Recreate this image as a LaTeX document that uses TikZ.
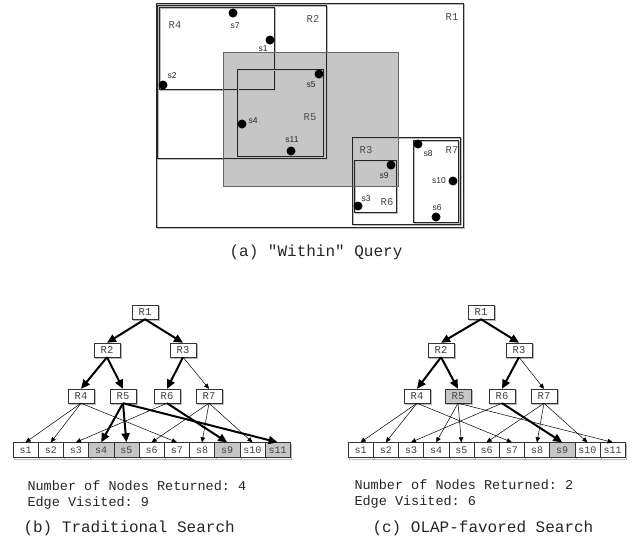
\documentclass[tikz,border=0pt]{standalone}
\usepackage{fontspec}
\setmainfont{Liberation Serif}
\setsansfont{Liberation Sans}
\setmonofont{Liberation Mono}
\usetikzlibrary{arrows.meta, positioning}

\begin{document}
\begin{tikzpicture}[
  x=1pt, y=-1pt,
  shade/.style={preaction={draw=gray!55, line width=0.7pt,
                transform canvas={xshift=1.4pt, yshift=-1.4pt}}},
  mbr/.style={draw=black!85, line width=0.7pt, shade},
  query/.style={fill=gray!45, draw=black!60, line width=1pt},
  spot/.style={circle, fill=black, inner sep=0pt, minimum size=9pt},
  rlabel/.style={font=\ttfamily\fontsize{10.5}{10.5}\selectfont, text=black!70},
  slabel/.style={font=\sffamily\fontsize{8.5}{8.5}\selectfont, text=black!85},
  tnode/.style={draw=black!80, fill=white, shade, minimum width=26pt,
                minimum height=14pt, inner sep=0pt,
                font=\ttfamily\fontsize{10.5}{10.5}\selectfont, text=black!75},
  leaf/.style={tnode, minimum width=25.2pt, minimum height=15pt,
               font=\ttfamily\fontsize{10}{10}\selectfont},
  hit/.style={fill=gray!45},
  thin/.style={-{Triangle[length=5pt,width=4.5pt]}, line width=0.5pt},
  thick/.style={-{Triangle[length=9pt,width=8pt]}, line width=2pt},
  info/.style={font=\ttfamily\fontsize{13.5}{13.5}\selectfont, anchor=west, text=black!85},
  caption/.style={font=\ttfamily\fontsize{16}{16}\selectfont, anchor=west, text=black!85}
]
\useasboundingbox (0,0) rectangle (634,542);

% (a) the query window and the MBRs
\fill[query] (223,52) rectangle (398,186);
\draw[mbr] (156,3) rectangle (463,227);   % R1
\draw[mbr] (157,5) rectangle (326,158);   % R2
\draw[mbr] (159,7) rectangle (274,89);    % R4
\draw[mbr] (237,69) rectangle (323,156);  % R5
\draw[mbr] (352,137) rectangle (460,224); % R3
\draw[mbr] (354,160) rectangle (396,212); % R6
\draw[mbr] (413,140) rectangle (458,222); % R7
\draw[query, fill=none] (223,52) rectangle (398,186);

\node[rlabel] (lR1) at (452,17) {R1};
\node[rlabel] (lR2) at (313,19) {R2};
\node[rlabel] (lR3) at (366,150) {R3};
\node[rlabel] (lR4) at (175,25) {R4};
\node[rlabel] (lR5) at (310,117) {R5};
\node[rlabel] (lR6) at (387,202) {R6};
\node[rlabel] (lR7) at (452,150) {R7};

\foreach \s/\x/\y in {1/270/40, 2/163/85, 3/358/206, 4/242/124, 5/319/74,
                      6/436/217, 7/233/13, 8/418/144, 9/391/165, 10/453/181, 11/291/151}
  \node[spot] (p\s) at (\x,\y) {};

\node[slabel] (ls1) at (263,49) {s1};
\node[slabel] (ls2) at (172,76) {s2};
\node[slabel] (ls3) at (366,199) {s3};
\node[slabel] (ls4) at (253,121) {s4};
\node[slabel] (ls5) at (311,85) {s5};
\node[slabel] (ls6) at (437,208) {s6};
\node[slabel] (ls7) at (235,26) {s7};
\node[slabel] (ls8) at (428,154) {s8};
\node[slabel] (ls9) at (384,176) {s9};
\node[slabel] (ls10) at (439,181) {s10};
\node[slabel] (ls11) at (292,140) {s11};

\node[caption, anchor=center] (capa) at (316,252) {(a) "Within" Query};

% (b) traditional search
\node[tnode] (bR1) at (145,312) {R1};
\node[tnode] (bR2) at (107,350) {R2};
\node[tnode] (bR3) at (183,350) {R3};
\node[tnode] (bR4) at (81,396) {R4};
\node[tnode] (bR5) at (123,396) {R5};
\node[tnode] (bR6) at (167,396) {R6};
\node[tnode] (bR7) at (209,396) {R7};
\foreach \i/\h in {1/,2/,3/,4/hit,5/hit,6/,7/,8/,9/hit,10/,11/hit}
  \node[leaf, \h] (bs\i) at ({13+25.2*(\i-0.5)},450) {s\i};

\foreach \a/\b in {R1/R2, R1/R3, R2/R4, R2/R5, R3/R6, R5/s4, R5/s5, R5/s11, R6/s9}
  \draw[thick] (b\a.south) -- (b\b.north);
\foreach \a/\b in {R3/R7, R4/s1, R4/s2, R4/s7, R6/s3, R7/s6, R7/s8, R7/s10}
  \draw[thin] (b\a.south) -- (b\b.north);

\node[info] (binfo1) at (24,486) {Number of Nodes Returned: 4};
\node[info] (binfo2) at (24,503) {Edge Visited: 9};
\node[caption] (capb) at (20,528) {(b) Traditional Search};

% (c) OLAP-favored search
\node[tnode] (cR1) at (481,312) {R1};
\node[tnode] (cR2) at (441,350) {R2};
\node[tnode] (cR3) at (519,350) {R3};
\node[tnode] (cR4) at (417,396) {R4};
\node[tnode, hit] (cR5) at (458,396) {R5};
\node[tnode] (cR6) at (502,396) {R6};
\node[tnode] (cR7) at (544,396) {R7};
\foreach \i/\h in {1/,2/,3/,4/,5/,6/,7/,8/,9/hit,10/,11/}
  \node[leaf, \h] (cs\i) at ({348+25.2*(\i-0.5)},450) {s\i};

\foreach \a/\b in {R1/R2, R1/R3, R2/R4, R2/R5, R3/R6, R6/s9}
  \draw[thick] (c\a.south) -- (c\b.north);
\foreach \a/\b in {R3/R7, R4/s1, R4/s2, R4/s7, R5/s4, R5/s5, R5/s11, R6/s3, R7/s6, R7/s8, R7/s10}
  \draw[thin] (c\a.south) -- (c\b.north);

\node[info] (cinfo1) at (351,485) {Number of Nodes Returned: 2};
\node[info] (cinfo2) at (351,502) {Edge Visited: 6};
\node[caption] (capc) at (369,528) {(c) OLAP-favored Search};

\end{tikzpicture}
\end{document}
